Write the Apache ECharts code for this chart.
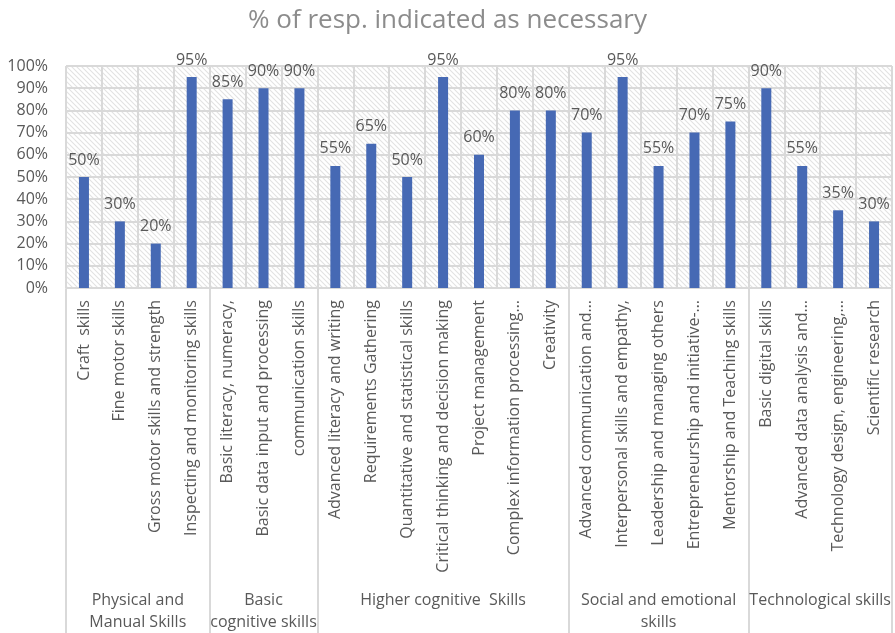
<!DOCTYPE html>
<html>
<head>
<meta charset="utf-8">
<script src="https://cdn.jsdelivr.net/npm/echarts@6/dist/echarts.min.js"></script>
<style>
	html, body { margin: 0; padding: 0; background: #fff; }
	#main { width: 895px; height: 633px; }
</style>
</head>
<body>
<div id="main"></div>
<script type="text/javascript">
	// skill names (as cut off in the original)
	var skills = [
		'Craft  skills', 'Fine motor skills', 'Gross motor skills and strength', 'Inspecting and monitoring skills',
		'Basic literacy, numeracy,', 'Basic data input and processing', 'communication skills',
		'Advanced literacy and writing', 'Requirements Gathering', 'Quantitative and statistical skills',
		'Critical thinking and decision making', 'Project management', 'Complex information processing…', 'Creativity',
		'Advanced communication and…', 'Interpersonal skills and empathy,', 'Leadership and managing others',
		'Entrepreneurship and initiative-…', 'Mentorship and Teaching skills',
		'Basic digital skills', 'Advanced data analysis and…', 'Technology design, engineering,…', 'Scientific research'
	];
	// % of respondents
	var values = [50, 30, 20, 95, 85, 90, 90, 55, 65, 50, 95, 60, 80, 80, 70, 95, 55, 70, 75, 90, 55, 35, 30];
	// groups and how many skills each holds
	var groups = ['Physical and\nManual Skills', 'Basic\ncognitive skills', 'Higher cognitive  Skills', 'Social and emotional\nskills', 'Technological skills'];
	var groupSizes = [4, 3, 7, 5, 4];
	var yTicks = [0, 10, 20, 30, 40, 50, 60, 70, 80, 90, 100];

	// half-step axis for the group row: position j sits at j/2 categories
	var half = [];
	for (var i = 0; i <= skills.length * 2; i++) half.push('');
	var edges = [0];
	var start = 0;
	groupSizes.forEach(function(n, k) {
		half[start * 2 + n] = groups[k];
		start += n;
		edges.push(start * 2);
	});

	// hatched background
	var pat = document.createElement('canvas');
	pat.width = 5; pat.height = 5;
	var g = pat.getContext('2d');
	g.fillStyle = '#ffffff';
	g.fillRect(0, 0, 5, 5);
	g.strokeStyle = '#e2e2e2';
	g.lineWidth = 1.1;
	[-5, 0, 5].forEach(function(o) {
		g.beginPath();
		g.moveTo(o - 1, -1);
		g.lineTo(o + 6, 6);
		g.stroke();
	});

	var font = '"Open Sans", sans-serif';
	var chart = echarts.init(document.getElementById('main'));
	var option = {
		animation: false,
		title: {
			text: '% of resp. indicated as necessary',
			left: 'center',
			top: 3,
			textStyle: { color: '#8c8c8c', fontSize: 26, fontWeight: 'normal', fontFamily: font }
		},
		grid: [{
			left: 66, right: 3, top: 66, bottom: 345,
			show: true, borderWidth: 0,
			backgroundColor: { image: pat, repeat: 'repeat' }
		}, {
			left: 66, right: 3, top: 288, height: 1
		}],
		xAxis: [{
			type: 'category',
			gridIndex: 0,
			data: skills,
			axisLine: { lineStyle: { color: '#d9d9d9', width: 2 } },
			axisTick: { show: false },
			splitLine: { show: true, interval: 0, lineStyle: { color: '#d9d9d9', width: 2 } },
			axisLabel: {
				interval: 0, rotate: 90, margin: 12,
				color: '#595959', fontSize: 16, fontFamily: font
			}
		}, {
			type: 'category',
			gridIndex: 1,
			boundaryGap: false,
			data: half,
			axisLine: { show: false },
			axisTick: {
				show: true, length: 345,
				interval: function(idx) { return edges.indexOf(idx) >= 0; },
				lineStyle: { color: '#d9d9d9', width: 2 }
			},
			axisLabel: {
				interval: 0, margin: 300,
				color: '#595959', fontSize: 16, lineHeight: 22, fontFamily: font
			}
		}],
		yAxis: [{
			type: 'value',
			gridIndex: 0,
			min: yTicks[0], max: yTicks[yTicks.length - 1], interval: 10,
			axisLine: { show: false },
			axisTick: { show: false },
			splitLine: { lineStyle: { color: '#d9d9d9', width: 2 } },
			axisLabel: { formatter: '{value}%', margin: 18, color: '#595959', fontSize: 16, fontFamily: font }
		}, {
			type: 'value',
			gridIndex: 1,
			show: false
		}],
		series: [{
			type: 'bar',
			xAxisIndex: 0,
			yAxisIndex: 0,
			data: values,
			barWidth: 10,
			itemStyle: { color: '#4669b4' },
			label: {
				show: true, position: 'top', distance: 9,
				formatter: '{c}%', color: '#595959', fontSize: 16, fontFamily: font
			}
		}]
	};
	chart.setOption(option);
</script>
</body>
</html>
